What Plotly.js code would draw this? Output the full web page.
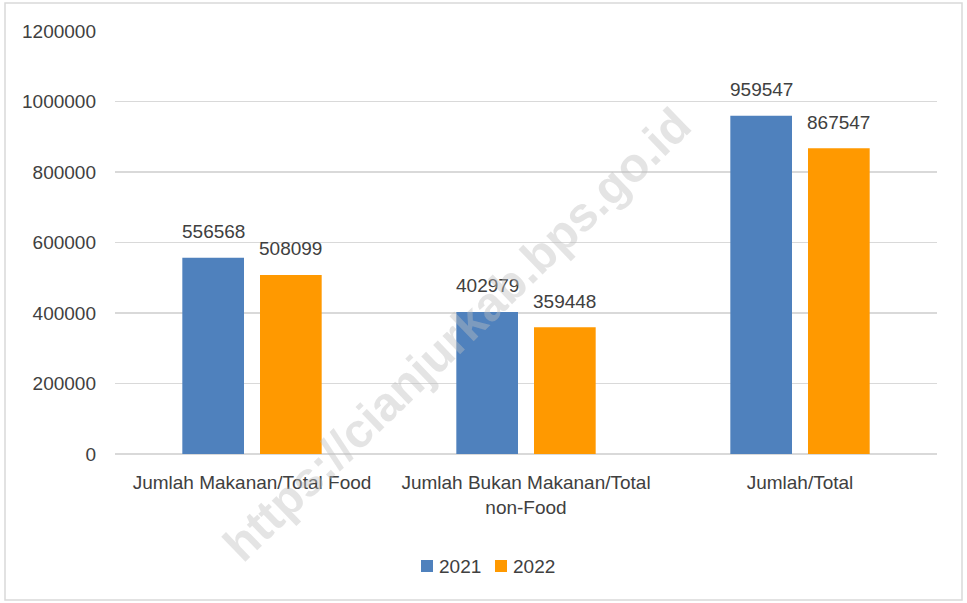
<!DOCTYPE html>
<html>
<head>
<meta charset="utf-8">
<script src="https://cdn.plot.ly/plotly-3.0.1.min.js"></script>
<style>
html,body{margin:0;padding:0;background:#fff;}
#chart{width:967px;height:603px;}
</style>
</head>
<body>
<div id="chart"></div>
<script>
const categories = ["Jumlah Makanan/Total Food", "Jumlah Bukan Makanan/Total<br>non-Food", "Jumlah/Total"];
const series2021 = [556568, 402979, 959547];
const series2022 = [508099, 359448, 867547];
const seriesNames = ["2021", "2022"];
const seriesColors = ["#4F81BD", "#FF9900"];
const yTicks = [0, 200000, 400000, 600000, 800000, 1000000, 1200000];

const FONT = "Liberation Sans, Arial, sans-serif";
const TXT = "#404040";
const FS = 19;

const allSeries = [series2021, series2022];

const traces = allSeries.map((vals, i) => ({
  type: "bar", name: seriesNames[i], x: categories, y: vals,
  marker: {color: seriesColors[i]}, showlegend: false, hoverinfo: "none"
}));

const L = 115, R = 30, T = 31, B = 149, W = 967, H = 603;
const pw = W - L - R, ph = H - T - B;
const px2x = p => (p - L) / pw;
const py2y = p => (H - B - p) / ph;

const annotations = [];
// value labels above bars
allSeries.forEach((vals, i) => {
  vals.forEach((v, j) => {
    annotations.push({x: categories[j], y: v, xref: "x", yref: "y", text: String(v),
      showarrow: false, xanchor: "center", yanchor: "middle",
      xshift: (i === 0 ? -38.8 : 38.8), yshift: 26,
      font: {family: FONT, size: FS, color: TXT}});
  });
});

// border and custom legend
const shapes = [{type: "rect", xref: "paper", yref: "paper",
  x0: px2x(5), x1: px2x(962), y0: py2y(600), y1: py2y(3),
  line: {color: "#d9d9d9", width: 1.5}, fillcolor: "rgba(0,0,0,0)", layer: "below"}];
const legendX = [421, 495];
seriesNames.forEach((nm, i) => {
  shapes.push({type: "rect", xref: "paper", yref: "paper",
    x0: px2x(legendX[i]), x1: px2x(legendX[i] + 12), y0: py2y(572), y1: py2y(560),
    line: {width: 0}, fillcolor: seriesColors[i]});
  annotations.push({text: nm, xref: "paper", yref: "paper", x: px2x(legendX[i] + 16), y: py2y(566),
    xanchor: "left", yanchor: "middle", showarrow: false,
    font: {family: FONT, size: FS, color: TXT}});
});

// watermark
annotations.push({text: "https://cianjurkab.bps.go.id", xref: "paper", yref: "paper",
  x: px2x(457), y: py2y(335), xanchor: "center", yanchor: "middle", showarrow: false, textangle: -44,
  font: {family: FONT, size: 48, color: "rgba(190,190,190,0.42)", weight: "bold"}});

const layout = {
  width: W, height: H,
  margin: {l: L, r: R, t: T, b: B, pad: 0},
  paper_bgcolor: "#fff", plot_bgcolor: "#fff",
  font: {family: FONT, size: FS, color: TXT},
  barmode: "group", bargap: 0.433, bargroupgap: 0.206,
  showlegend: false,
  xaxis: {type: "category", showgrid: false, zeroline: false, showline: false, ticks: "",
          tickfont: {family: FONT, size: FS, color: TXT}, ticklabelstandoff: 15},
  yaxis: {range: [0, 1200000], tickvals: yTicks, ticktext: yTicks.map(String),
          showgrid: true, gridcolor: "#d9d9d9", gridwidth: 1.5,
          zeroline: true, zerolinecolor: "#d9d9d9", zerolinewidth: 1.5,
          showline: false, ticks: "", ticklabelstandoff: 18,
          tickfont: {family: FONT, size: FS, color: TXT}},
  shapes: shapes,
  annotations: annotations
};

Plotly.newPlot("chart", traces, layout, {displayModeBar: false, staticPlot: true});
</script>
</body>
</html>
